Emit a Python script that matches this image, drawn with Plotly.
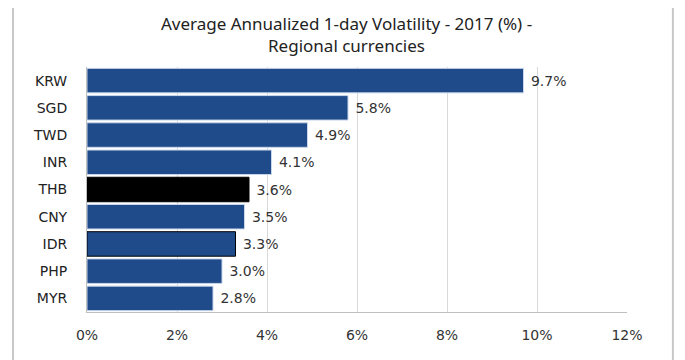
import plotly.graph_objects as go

currencies = ["KRW", "SGD", "TWD", "INR", "THB", "CNY", "IDR", "PHP", "MYR"]
volatility = [9.7, 5.8, 4.9, 4.1, 3.6, 3.5, 3.3, 3.0, 2.8]
x_ticks = [0, 2, 4, 6, 8, 10, 12]
x_tick_labels = ["0%", "2%", "4%", "6%", "8%", "10%", "12%"]

NAVY = "#1f4b8a"
colors = ["#000000" if c == "THB" else NAVY for c in currencies]
line_colors = ["#000000" if c in ("THB", "IDR") else "#c9d6ea" for c in currencies]

fig = go.Figure(go.Bar(
    x=volatility,
    y=currencies,
    orientation="h",
    marker=dict(color=colors, line=dict(color=line_colors, width=1)),
    text=[f"\u00a0{v:.1f}%" for v in volatility],
    textposition="outside",
    textfont=dict(family="DejaVu Sans", size=14, color="#333333"),
    cliponaxis=False,
    width=0.9,
))

# page body has an 8px margin; figure sized to fit the 685x360 window
fig.update_layout(
    width=677, height=352,
    margin=dict(l=79, r=58, t=59, b=48),
    paper_bgcolor="white", plot_bgcolor="white",
    showlegend=False,
    title=dict(
        text="Average Annualized 1-day Volatility - 2017 (%) -<br>Regional currencies",
        font=dict(family="Noto Sans", size=17, color="#222222"),
        x=0.5, xanchor="center", xref="container",
        yref="container", y=1 - 22 / 352, yanchor="middle",
    ),
    xaxis=dict(
        range=[0, 12], tickvals=x_ticks, ticktext=x_tick_labels,
        showgrid=True, gridcolor="#d9d9d9", gridwidth=1,
        showline=True, linecolor="#bfbfbf", linewidth=1,
        zeroline=False,
        tickfont=dict(family="DejaVu Sans", size=14, color="#333333"),
        ticks="outside", ticklen=10, tickcolor="rgba(0,0,0,0)",
        fixedrange=True,
    ),
    yaxis=dict(
        autorange="reversed",
        showline=True, linecolor="#bfbfbf", linewidth=1,
        tickfont=dict(family="DejaVu Sans", size=14, color="#222222"),
        ticks="outside", ticklen=16, tickcolor="rgba(0,0,0,0)",
        fixedrange=True,
    ),
    shapes=[
        dict(type="line", xref="paper", yref="paper",
             x0=-0.137, x1=-0.137, y0=-0.2, y1=1.28,
             line=dict(color="#c8c8c8", width=2)),
        dict(type="line", xref="paper", yref="paper",
             x0=1.085, x1=1.085, y0=-0.2, y1=1.28,
             line=dict(color="#c8c8c8", width=2)),
    ],
)

fig.write_html("out.html")
